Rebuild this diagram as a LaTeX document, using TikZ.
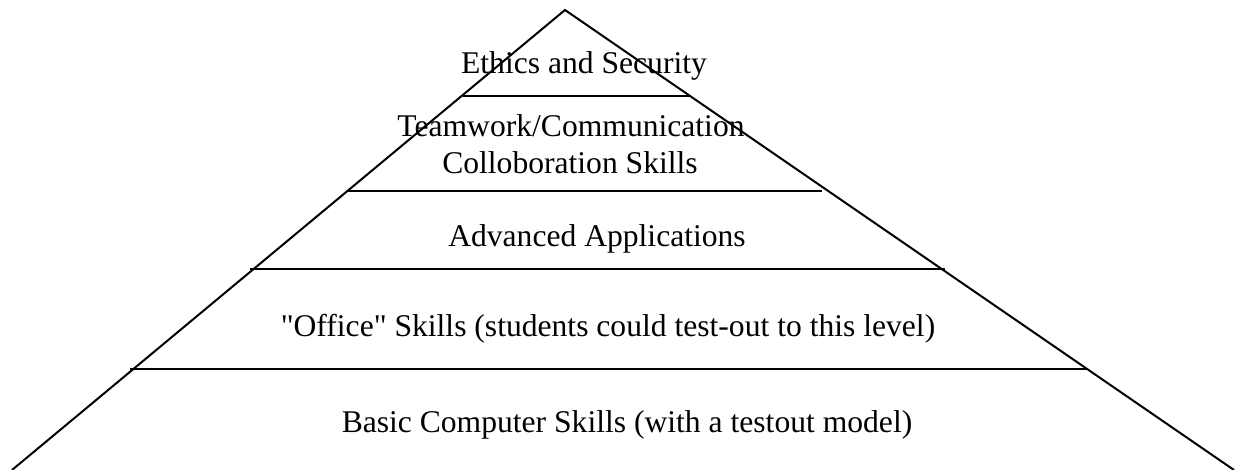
\documentclass[tikz,border=0pt]{standalone}
\usepackage{fontspec}
\setmainfont{Liberation Serif}
\begin{document}
\begin{tikzpicture}[x=0.5pt,y=-0.5pt,line width=1pt,
  tierlabel/.style={anchor=base,inner sep=0pt,font=\fontsize{15.8}{18}\selectfont}]
  \useasboundingbox (0,0) rectangle (1238,470);
  % outline of the pyramid
  \coordinate (apex) at (565,10);
  \coordinate (baseL) at (12,470);
  \coordinate (baseR) at (1234,470);
  \draw (baseL) -- (apex) -- (baseR);
  % tier dividers
  \foreach \xa/\xb/\y in {463/690/96, 347/822/191, 250/945/269, 130/1088/369} {
    \draw (\xa,\y) -- (\xb,\y);
  }
  % tier labels
  \node[tierlabel] (ethics) at (584,74) {Ethics and Security};
  \node[tierlabel] (team) at (571,137) {Teamwork/Communication};
  \node[tierlabel] (collab) at (570,174) {Colloboration Skills};
  \node[tierlabel] (advanced) at (597,247) {Advanced Applications};
  \node[tierlabel] (office) at (608,337) {\textquotedbl Office\textquotedbl{} Skills (students could test-out to this level)};
  \node[tierlabel] (basic) at (627,433) {Basic Computer Skills (with a testout model)};
\end{tikzpicture}
\end{document}
